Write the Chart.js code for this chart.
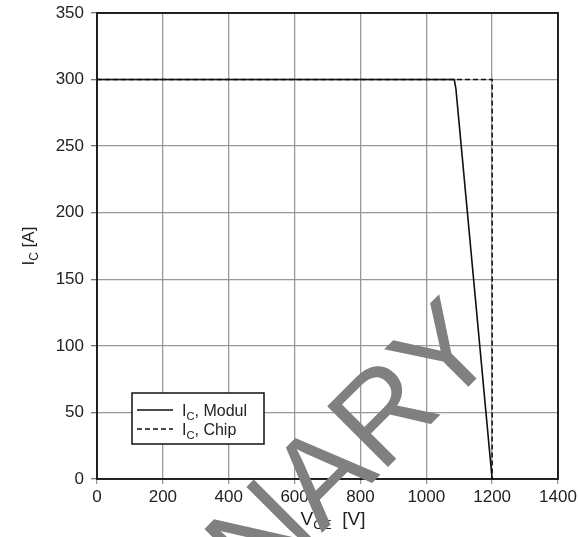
<!DOCTYPE html>
<html>
<head>
<meta charset="utf-8">
<script src="https://cdn.jsdelivr.net/npm/chart.js@4.4.1/dist/chart.umd.min.js"></script>
<style>
  html, body { margin: 0; padding: 0; background: #fff; }
  #wrap { width: 578px; height: 537px; }
</style>
</head>
<body>
<div id="wrap"><canvas id="socChart" width="578" height="537"></canvas></div>
<script>
// values
const vceModul = [0, 1085, 1090, 1200];
const icModul = [300, 300, 293, 0];
const vceChip = [0, 1090, 1200, 1200];
const icChip = [300, 300, 300, 0];
const xTicks = [0, 200, 400, 600, 800, 1000, 1200, 1400];
const yTicks = [0, 50, 100, 150, 200, 250, 300, 350];
const seriesNames = ['Modul', 'Chip'];

const fontFam = '"Liberation Sans", Arial, sans-serif';

function toPoints(xs, ys) {
    return xs.map((x, i) => ({ x: x, y: ys[i] }));
}

// text like "I_C" with a subscript part
function subText(ctx, parts, x, y, size) {
    let cx = x;
    parts.forEach(p => {
        const s = p.sub ? size * 0.7 : size;
        ctx.font = s + 'px ' + fontFam;
        ctx.fillText(p.t, cx, y + (p.sub ? size * 0.22 : 0));
        cx += ctx.measureText(p.t).width;
    });
    return cx - x;
}
function subWidth(ctx, parts, size) {
    let w = 0;
    parts.forEach(p => {
        ctx.font = (p.sub ? size * 0.7 : size) + 'px ' + fontFam;
        w += ctx.measureText(p.t).width;
    });
    return w;
}

const extras = {
    id: 'extras',
    afterDatasetsDraw(chart) {
        const ctx = chart.ctx;
        const a = chart.chartArea;
        ctx.save();
        // frame
        ctx.strokeStyle = '#111';
        ctx.lineWidth = 1.8;
        ctx.strokeRect(a.left, a.top, a.right - a.left, a.bottom - a.top);

        // legend box
        ctx.fillStyle = '#fff';
        ctx.fillRect(132, 393, 132, 51);
        ctx.strokeStyle = '#111';
        ctx.lineWidth = 1.5;
        ctx.strokeRect(132, 393, 132, 51);
        const ds = chart.data.datasets;
        const rows = [410, 429];
        ds.forEach((d, i) => {
            ctx.strokeStyle = d.borderColor;
            ctx.lineWidth = 1.5;
            ctx.setLineDash(d.borderDash || []);
            ctx.beginPath();
            ctx.moveTo(137, rows[i]);
            ctx.lineTo(173, rows[i]);
            ctx.stroke();
            ctx.setLineDash([]);
            ctx.fillStyle = '#222';
            ctx.textBaseline = 'alphabetic';
            ctx.textAlign = 'left';
            subText(ctx, [{ t: 'I' }, { t: 'C', sub: true }, { t: ', ' + seriesNames[i] }], 182, rows[i] + 6, 16);
        });

        // axis titles
        ctx.fillStyle = '#222';
        ctx.textAlign = 'left';
        const xt = [{ t: 'V' }, { t: 'CE', sub: true }, { t: '  [V]' }];
        const xw = subWidth(ctx, xt, 19);
        subText(ctx, xt, 333 - xw / 2, 525, 19);

        const yt = [{ t: 'I' }, { t: 'C', sub: true }, { t: ' [A]' }];
        const yw = subWidth(ctx, yt, 17);
        ctx.translate(34, 246);
        ctx.rotate(-Math.PI / 2);
        subText(ctx, yt, -yw / 2, 0, 17);
        ctx.restore();
    },
    afterDraw(chart) {
        // watermark
        const ctx = chart.ctx;
        ctx.save();
        ctx.translate(258, 597);
        ctx.rotate(-Math.PI / 4);
        ctx.fillStyle = '#808080';
        ctx.font = '125px ' + fontFam;
        ctx.textAlign = 'left';
        ctx.textBaseline = 'alphabetic';
        ctx.fillText('NARY', 0, 0);
        ctx.restore();
    }
};

const ctx = document.getElementById('socChart').getContext('2d');
const socChart = new Chart(ctx, {
    type: 'scatter',
    data: {
        datasets: [{
            label: 'IC, ' + seriesNames[0],
            data: toPoints(vceModul, icModul),
            showLine: true,
            borderColor: '#111',
            borderWidth: 1.6,
            pointRadius: 0,
            tension: 0
        }, {
            label: 'IC, ' + seriesNames[1],
            data: toPoints(vceChip, icChip),
            showLine: true,
            borderColor: '#111',
            borderWidth: 1.5,
            borderDash: [5, 3],
            pointRadius: 0,
            tension: 0
        }]
    },
    options: {
        responsive: false,
        animation: false,
        layout: { padding: { left: 0, right: 20, top: 13, bottom: 0 } },
        plugins: {
            legend: { display: false },
            tooltip: { enabled: false }
        },
        scales: {
            x: {
                type: 'linear',
                min: 0,
                max: 1400,
                afterBuildTicks: s => { s.ticks = xTicks.map(v => ({ value: v })); },
                afterFit: s => {
                    s.height = 58;
                    s.paddingLeft = 0;
                    s.paddingRight = 0;
                },
                grid: { color: '#999', lineWidth: 1.3, tickLength: 5, tickColor: '#999' },
                border: { display: false },
                ticks: {
                    color: '#222',
                    padding: 3,
                    maxRotation: 0,
                    callback: v => String(v),
                    font: { family: fontFam, size: 17 }
                }
            },
            y: {
                min: 0,
                max: 350,
                afterBuildTicks: s => { s.ticks = yTicks.map(v => ({ value: v })); },
                afterFit: s => {
                    s.width = 97;
                    s.paddingTop = 0;
                    s.paddingBottom = 0;
                },
                grid: { color: '#999', lineWidth: 1.3, tickLength: 6, tickColor: '#777' },
                border: { display: false },
                ticks: {
                    color: '#222',
                    padding: 7,
                    callback: v => String(v),
                    font: { family: fontFam, size: 17 }
                }
            }
        }
    },
    plugins: [extras]
});
</script>
</body>
</html>
